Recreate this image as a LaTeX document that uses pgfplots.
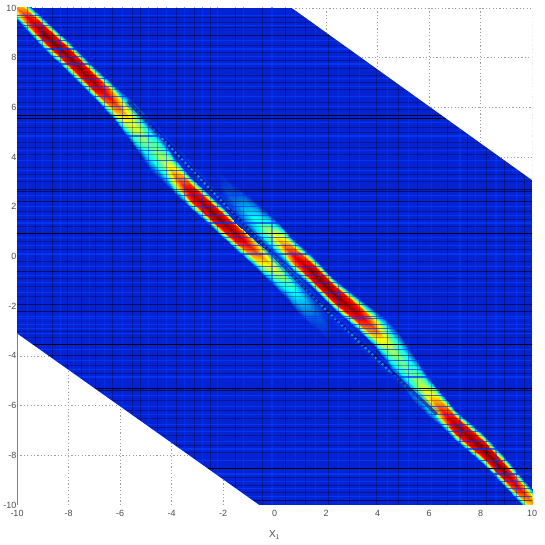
\documentclass[border=0pt]{standalone}
\usepackage{fontspec}
\setmainfont{Liberation Sans}
\usepackage{pgfplots}
\pgfplotsset{compat=1.18}
\definecolor{bgblue}{RGB}{5,35,210}
\definecolor{brightb}{RGB}{0,62,255}
\definecolor{gridg}{gray}{0.62}
\pgfplotsset{
 hstreak/.style={draw=none,mark=none,forget plot,error bars/.cd,x dir=both,x fixed=25,error mark=none,error bar style={#1}},
 vstreak/.style={draw=none,mark=none,forget plot,error bars/.cd,y dir=both,y fixed=25,error mark=none,error bar style={#1}},
 gridline/.style={forget plot,gridg,line width=0.7pt,dash pattern=on 1.2pt off 2.2pt}
}
\begin{document}
\begin{tikzpicture}
\useasboundingbox (0,0) rectangle (545pt,545pt);
\begin{axis}[
 at={(17pt,40pt)},anchor=south west,scale only axis,width=515pt,height=497pt,
 xmin=-10,xmax=10,ymin=-10,ymax=10,enlargelimits=false,
 xtick={-10,-8,-6,-4,-2,0,2,4,6,8,10},ytick={-10,-8,-6,-4,-2,0,2,4,6,8,10},
 axis line style={draw=none},tick style={draw=none},
 axis x line*=bottom,axis y line*=left,
 /pgf/number format/assume math mode=true,
 tick label style={font=\fontsize{9}{10}\selectfont,text=black!70},
 xlabel={X$_{\mathsf{1}}$},xlabel style={font=\fontsize{10}{11}\selectfont,text=black!70,yshift=-7pt},
 xticklabel style={yshift=-2pt},yticklabel style={xshift=3pt},
 colormap={cm}{rgb255(0cm)=(0,0,128);rgb255(12cm)=(5,35,210);rgb255(37cm)=(0,255,255);rgb255(62cm)=(255,255,0);rgb255(87cm)=(255,0,0);rgb255(100cm)=(128,0,0)},
 point meta min=0,point meta max=1,
 clip=true
]
% background
\addplot[forget plot,fill=bgblue,draw=none] coordinates {(-10,-10)(10,-10)(10,10)(-10,10)} --cycle;
% band A
\addplot[surf,shader=interp,forget plot,mesh/ordering=y varies,mesh/rows=5,point meta=explicit] table[meta=c] {
x y c
-10.2 9.7 .12
-10.2 9.95 .55
-10.2 10.2 .68
-10.2 10.45 .55
-10.2 10.7 .12
-9.5 8.94 .12
-9.5 9.22 .78
-9.5 9.5 .9
-9.5 9.78 .78
-9.5 10.06 .12
-9 8.4 .12
-9 8.7 .87
-9 9 1
-9 9.3 .87
-9 9.6 .12
-8 7.4 .12
-8 7.71 .87
-8 8.02 1
-8 8.33 .87
-8 8.64 .12
-7 6.38 .12
-7 6.69 .87
-7 7 .97
-7 7.31 .87
-7 7.62 .12
-6.3 5.62 .12
-6.3 5.96 .72
-6.3 6.3 .85
-6.3 6.64 .72
-6.3 6.98 .12
-5.7 4.78 .12
-5.7 5.19 .52
-5.7 5.6 .66
-5.7 6.01 .52
-5.7 6.42 .12
-5.2 4.03 .12
-5.2 4.505 .42
-5.2 4.98 .54
-5.2 5.455 .42
-5.2 5.93 .12
-4.8 3.44 .12
-4.8 3.93 .38
-4.8 4.42 .47
-4.8 4.91 .38
-4.8 5.4 .12
-4.3 2.97 .12
-4.3 3.395 .44
-4.3 3.82 .56
-4.3 4.245 .44
-4.3 4.67 .12
-3.9 2.56 .12
-3.9 2.92 .58
-3.9 3.28 .73
-3.9 3.64 .58
-3.9 4 .12
-3.3 1.94 .12
-3.3 2.26 .82
-3.3 2.58 .93
-3.3 2.9 .82
-3.3 3.22 .12
-2.4 1.13 .12
-2.4 1.44 .87
-2.4 1.75 1
-2.4 2.06 .87
-2.4 2.37 .12
-1.5 .28 .12
-1.5 .59 .84
-1.5 .9 .97
-1.5 1.21 .84
-1.5 1.52 .12
-.8 -.39 .12
-.8 -.06 .68
-.8 .27 .82
-.8 .6 .68
-.8 .93 .12
-.2 -.97 .12
-.2 -.61 .5
-.2 -.25 .66
-.2 .11 .5
-.2 .47 .12
.4 -1.65 .12
.4 -1.25 .36
.4 -.85 .5
.4 -.45 .36
.4 -.05 .12
1 -2.35 .12
1 -1.95 .27
1 -1.55 .34
1 -1.15 .27
1 -.75 .12
1.5 -2.85 .12
1.5 -2.475 .18
1.5 -2.1 .22
1.5 -1.725 .18
1.5 -1.35 .12
2.2 -3.45 .12
2.2 -3.15 .12
2.2 -2.85 .12
2.2 -2.55 .12
2.2 -2.25 .12
};
% band B
\addplot[surf,shader=interp,forget plot,mesh/ordering=y varies,mesh/rows=5,point meta=explicit] table[meta=c] {
x y c
-2.2 2.25 .12
-2.2 2.55 .12
-2.2 2.85 .12
-2.2 3.15 .12
-2.2 3.45 .12
-1.5 1.35 .12
-1.5 1.725 .18
-1.5 2.1 .22
-1.5 2.475 .18
-1.5 2.85 .12
-1 .85 .12
-1 1.25 .27
-1 1.65 .34
-1 2.05 .27
-1 2.45 .12
-.45 .4 .12
-.45 .775 .36
-.45 1.15 .47
-.45 1.525 .36
-.45 1.9 .12
.1 .02 .12
.1 .37 .5
.1 .72 .66
.1 1.07 .5
.1 1.42 .12
.72 -.58 .12
.72 -.26 .74
.72 .06 .88
.72 .38 .74
.72 .7 .12
1.5 -1.28 .12
1.5 -.97 .87
1.5 -.66 1
1.5 -.35 .87
1.5 -.04 .12
2.27 -2.09 .12
2.27 -1.78 .87
2.27 -1.47 1
2.27 -1.16 .87
2.27 -.85 .12
3.2 -2.91 .12
3.2 -2.59 .84
3.2 -2.27 .95
3.2 -1.95 .84
3.2 -1.63 .12
3.83 -3.56 .12
3.83 -3.2 .66
3.83 -2.84 .8
3.83 -2.48 .66
3.83 -2.12 .12
4.3 -4.17 .12
4.3 -3.745 .48
4.3 -3.32 .62
4.3 -2.895 .48
4.3 -2.47 .12
4.76 -4.93 .12
4.76 -4.44 .38
4.76 -3.95 .5
4.76 -3.46 .38
4.76 -2.97 .12
5.34 -5.77 .12
5.34 -5.295 .38
5.34 -4.82 .47
5.34 -4.345 .38
5.34 -3.87 .12
5.96 -6.4 .12
5.96 -6.01 .5
5.96 -5.62 .64
5.96 -5.23 .5
5.96 -4.84 .12
6.5 -6.88 .12
6.5 -6.54 .7
6.5 -6.2 .84
6.5 -5.86 .7
6.5 -5.52 .12
7 -7.4 .12
7 -7.09 .86
7 -6.78 .97
7 -6.47 .86
7 -6.16 .12
8.1 -8.37 .12
8.1 -8.06 .87
8.1 -7.75 1
8.1 -7.44 .87
8.1 -7.13 .12
8.87 -9.2 .12
8.87 -8.9 .87
8.87 -8.6 1
8.87 -8.3 .87
8.87 -8 .12
9.5 -9.86 .12
9.5 -9.58 .76
9.5 -9.3 .88
9.5 -9.02 .76
9.5 -8.74 .12
10.2 -10.6 .12
10.2 -10.35 .55
10.2 -10.1 .68
10.2 -9.85 .55
10.2 -9.6 .12
};
% thin diagonal
\addplot[forget plot,color=brightb,line width=8pt,opacity=.3] coordinates {(-5.7,6.25)(-1.8,1.95)(1.8,-1.95)(6.3,-6.35)};
\addplot[forget plot,color=blue!60!black,line width=3.2pt,opacity=.6] coordinates {(-5.7,6.25)(-1.8,1.95)(1.8,-1.95)(6.3,-6.35)};
\addplot[forget plot,color=cyan!25!blue,line width=2.2pt,dash pattern=on 2.3pt off 2.4pt] coordinates {(-5.7,6.25)(-4.5,4.9)};
\addplot[forget plot,color=cyan!75!blue,line width=2.2pt,dash pattern=on 2.3pt off 2.4pt] coordinates {(-4.5,4.9)(-1.8,1.95)};
\addplot[forget plot,color=cyan!35!blue,line width=2.2pt,dash pattern=on 2.3pt off 2.4pt] coordinates {(-1.8,1.95)(1.8,-1.95)};
\addplot[forget plot,color=cyan!75!blue,line width=2.2pt,dash pattern=on 2.3pt off 2.4pt] coordinates {(1.8,-1.95)(4.5,-4.65)};
\addplot[forget plot,color=cyan!25!blue,line width=2.2pt,dash pattern=on 2.3pt off 2.4pt] coordinates {(4.5,-4.65)(6.3,-6.35)};
% bright horizontal and vertical streaks
\addplot[hstreak={brightb,line width=1.2pt,opacity=.75}] table[x index=0,y index=1,header=false] {
0 9.7
0 9.3
0 8.7
0 8.35
0 8.05
0 7.75
0 7.15
0 6.85
0 6.45
0 6.05
0 5.4
0 4.85
0 4.25
0 3.85
0 3.45
0 3.15
0 2.45
0 2
0 1.65
0 1.35
0 .75
0 .45
0 .1
0 -.4
0 -.75
0 -1.05
0 -1.45
0 -2.4
0 -2.5
0 -2.75
0 -2.9
0 -3.1
0 -3.75
0 -4.2
0 -4.55
0 -4.85
0 -5.6
0 -6.05
0 -6.35
0 -6.75
0 -7.05
0 -7.45
0 -7.75
0 -8.2
0 -8.75
0 -9.05
0 -9.35
0 -9.65
};
\addplot[vstreak={brightb,line width=1.2pt,opacity=.5}] table[x index=0,y index=1,header=false] {
-9.6 0
-9 0
-8.3 0
-7.8 0
-7.2 0
-6.6 0
-5.9 0
-4.9 0
-4.2 0
-3.5 0
-2.8 0
-2.2 0
-1.2 0
-.1 0
.8 0
1.6 0
2.5 0
3.3 0
4.4 0
5.2 0
6.1 0
7.2 0
7.8 0
8.6 0
9.4 0
};
% dark streaks
\addplot[hstreak={black,line width=1pt,opacity=.3}] table[x index=0,y index=1,header=false] {
0 9.6
0 9.4
0 9.2
0 8.5
0 8.2
0 7.9
0 7.58
0 7.3
0 7
0 6.7
0 6.2
0 5.9
0 5.2
0 5
0 4.6
0 4.4
0 4.1
0 3.6
0 3.3
0 3
0 1.8
0 1.5
0 1.2
0 .6
0 .3
0 -.2
0 -.9
0 -1.2
0 -1.6
0 -3
0 -3.25
0 -4.4
0 -4.7
0 -5.8
0 -6.2
0 -6.5
0 -6.9
0 -7.2
0 -7.6
0 -7.9
0 -8.9
0 -9.2
0 -9.5
};
\addplot[vstreak={black,line width=1pt,opacity=.3}] table[x index=0,y index=1,header=false] {
-9.3 0
-8.64 0
-8.05 0
-7.48 0
-6.97 0
-6.3 0
-5.53 0
-5.2 0
-4.56 0
-3.8 0
-3.1 0
-2.5 0
-1.53 0
-.45 0
.41 0
1.2 0
2.08 0
2.9 0
3.98 0
4.8 0
5.57 0
6.7 0
7.5 0
8.25 0
8.95 0
9.7 0
};
\addplot[hstreak={black,line width=1pt,opacity=.55}] table[x index=0,y index=1,header=false] {
0 8.88
0 2.7
0 2.63
0 2.23
0 -.6
0 -1.94
0 -2.2
0 -4
0 -5.4
0 -9.8
};
\addplot[hstreak={black,line width=1.1pt}] table[x index=0,y index=1,header=false] {
0 5.69
0 5.57
0 .91
0 -3.55
0 -5.3
0 -8.52
};
% white corners
\addplot[forget plot,fill=white,draw=none] coordinates {(.68,10)(10,3.08)(10.5,3.08)(10.5,10.5)(.68,10.5)} --cycle;
\addplot[forget plot,fill=white,draw=none] coordinates {(-10.5,-3.1)(-10,-3.1)(-.6,-10)(-.6,-10.5)(-10.5,-10.5)} --cycle;
% grid in the white corners
\addplot[gridline] coordinates {(.68,10)(10,10)};
\addplot[gridline] coordinates {(10,10)(10,3.08)};
\addplot[gridline] coordinates {(2,10)(2,9.02)};
\addplot[gridline] coordinates {(4,10)(4,7.54)};
\addplot[gridline] coordinates {(6,10)(6,6.05)};
\addplot[gridline] coordinates {(8,10)(8,4.57)};
\addplot[gridline] coordinates {(3.38,8)(10,8)};
\addplot[gridline] coordinates {(6.07,6)(10,6)};
\addplot[gridline] coordinates {(8.77,4)(10,4)};
\addplot[gridline] coordinates {(-8,-10)(-8,-4.57)};
\addplot[gridline] coordinates {(-6,-10)(-6,-6.04)};
\addplot[gridline] coordinates {(-4,-10)(-4,-7.5)};
\addplot[gridline] coordinates {(-2,-10)(-2,-8.97)};
\addplot[gridline] coordinates {(-10,-4)(-8.77,-4)};
\addplot[gridline] coordinates {(-10,-6)(-6.05,-6)};
\addplot[gridline] coordinates {(-10,-8)(-3.32,-8)};
% axis lines in the white corner
\addplot[forget plot,gray,line width=.9pt] coordinates {(-10,-3.1)(-10,-10)(-.6,-10)};
\end{axis}
\end{tikzpicture}
\end{document}
